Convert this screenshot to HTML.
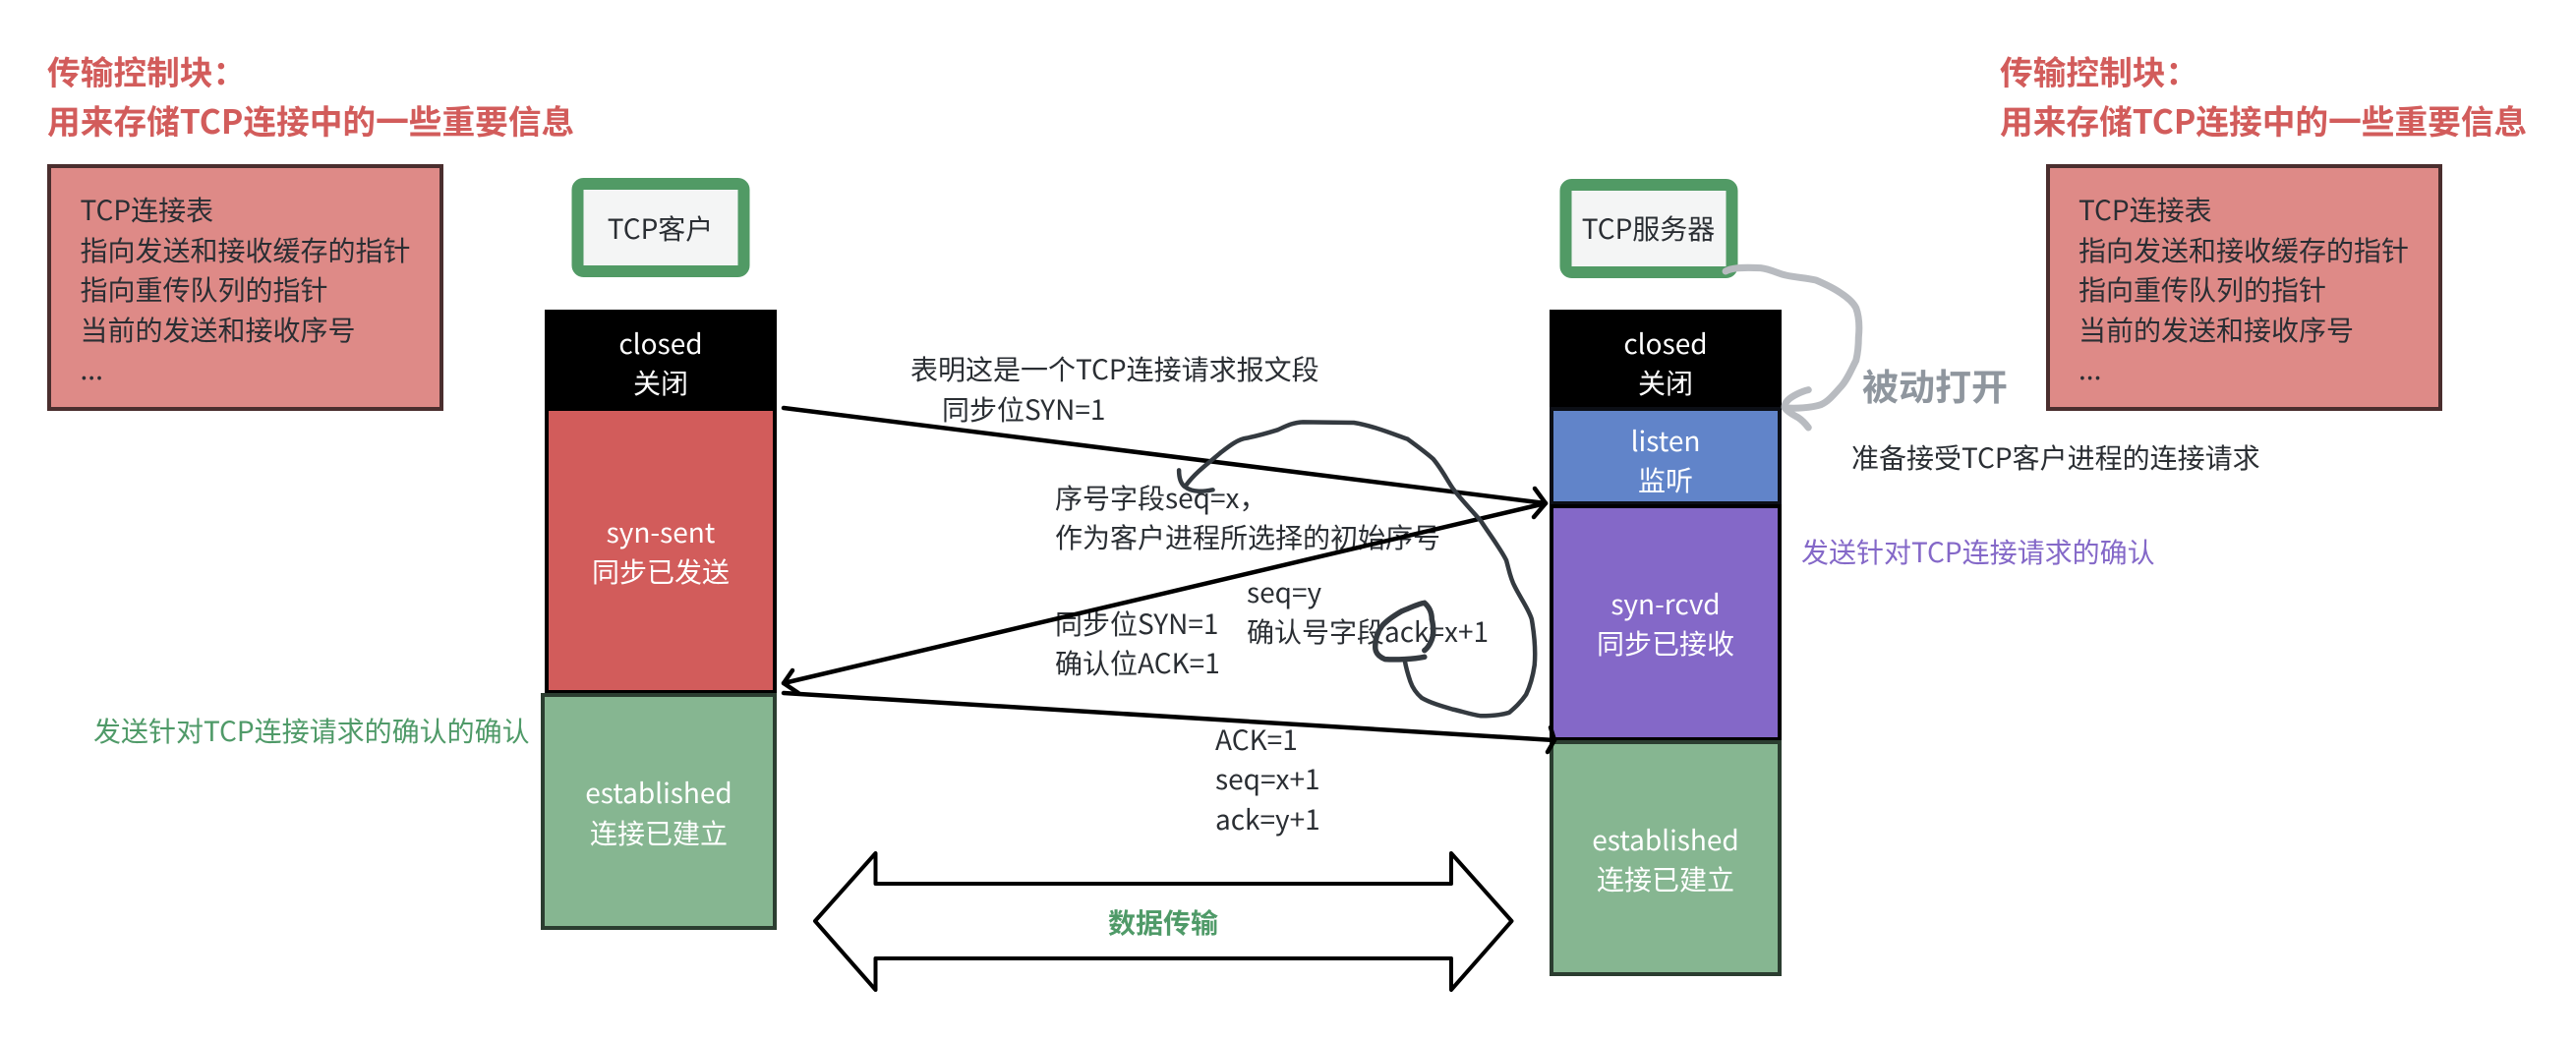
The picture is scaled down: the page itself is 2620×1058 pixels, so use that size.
<!DOCTYPE html>
<html lang="zh"><head><meta charset="utf-8"><title>TCP三次握手</title>
<style>
html,body{margin:0;padding:0;background:#fff;width:2620px;height:1058px;overflow:hidden}
svg{display:block;position:absolute;left:0;top:0}
text{font-family:"Noto Sans CJK SC","Liberation Sans",sans-serif;font-size:28px;fill:#2a2e33}
.w{fill:#fff;text-anchor:middle}
.t{font-size:33.7px;font-weight:700;fill:#d25c5b}
</style></head><body>
<svg width="2620" height="1058" viewBox="0 0 2620 1058" xmlns="http://www.w3.org/2000/svg">
<rect width="2620" height="1058" fill="#fff"/>

<text class="t" x="48" y="86">传输控制块：</text>
<text class="t" x="48" y="136">用来存储TCP连接中的一些重要信息</text>
<text class="t" x="2034" y="86">传输控制块：</text>
<text class="t" x="2034" y="136">用来存储TCP连接中的一些重要信息</text>

<rect x="50" y="169" width="399" height="247" fill="#de8a87" stroke="#4a2e2e" stroke-width="4"/>
<text x="81.5" y="224">TCP连接表</text>
<text x="81.5" y="265">指向发送和接收缓存的指针</text>
<text x="81.5" y="305">指向重传队列的指针</text>
<text x="81.5" y="346">当前的发送和接收序号</text>
<text x="81.5" y="386">...</text>

<rect x="2083" y="169" width="399" height="247" fill="#de8a87" stroke="#4a2e2e" stroke-width="4"/>
<text x="2114" y="224">TCP连接表</text>
<text x="2114" y="265">指向发送和接收缓存的指针</text>
<text x="2114" y="305">指向重传队列的指针</text>
<text x="2114" y="346">当前的发送和接收序号</text>
<text x="2114" y="386">...</text>

<rect x="587.5" y="187" width="169" height="89" rx="6" fill="#f4f5f5" stroke="#519a65" stroke-width="12"/>
<text x="671.5" y="243" text-anchor="middle">TCP客户</text>
<rect x="1592.5" y="188" width="169" height="89" rx="6" fill="#f4f5f5" stroke="#519a65" stroke-width="12"/>
<text x="1676.5" y="243" text-anchor="middle">TCP服务器</text>

<!-- client stack -->
<rect x="554" y="315" width="236" height="103" fill="#000"/>
<rect x="556" y="416" width="232" height="288" fill="#d25c5b" stroke="#000" stroke-width="4"/>
<rect x="552" y="707" width="236" height="237" fill="#86b691" stroke="#2b3d30" stroke-width="4"/>
<text class="w" x="672" y="360">closed</text>
<text class="w" x="672" y="400">关闭</text>
<text class="w" x="672" y="552">syn-sent</text>
<text class="w" x="672" y="592">同步已发送</text>
<text class="w" x="670" y="817">established</text>
<text class="w" x="670" y="858">连接已建立</text>

<!-- server stack -->
<rect x="1576" y="315" width="236" height="103" fill="#000"/>
<rect x="1578" y="416" width="232" height="96" fill="#6184c9" stroke="#0c0f16" stroke-width="4"/>
<rect x="1578" y="515" width="232" height="237" fill="#8468c8" stroke="#000" stroke-width="4"/>
<rect x="1578" y="755" width="232" height="236" fill="#86b691" stroke="#2b3d30" stroke-width="4"/>
<text class="w" x="1694" y="360">closed</text>
<text class="w" x="1694" y="400">关闭</text>
<text class="w" x="1694" y="459">listen</text>
<text class="w" x="1694" y="499">监听</text>
<text class="w" x="1694" y="625">syn-rcvd</text>
<text class="w" x="1694" y="665">同步已接收</text>
<text class="w" x="1694" y="865">established</text>
<text class="w" x="1694" y="905">连接已建立</text>

<!-- message labels -->
<text x="926" y="386">表明这是一个TCP连接请求报文段</text>
<text x="958" y="427">同步位SYN=1</text>
<text x="1073" y="517">序号字段seq=x，</text>
<text x="1073" y="557">作为客户进程所选择的初始序号</text>
<text x="1268" y="613">seq=y</text>
<text x="1268" y="653">确认号字段ack=x+1</text>
<text x="1073" y="645">同步位SYN=1</text>
<text x="1073" y="685">确认位ACK=1</text>
<text x="1236" y="763">ACK=1</text>
<text x="1236" y="803">seq=x+1</text>
<text x="1236" y="844">ack=y+1</text>
<text x="1883" y="476">准备接受TCP客户进程的连接请求</text>
<text x="1832" y="572" style="fill:#8468c8">发送针对TCP连接请求的确认</text>
<text x="95" y="754" style="fill:#4f9a68">发送针对TCP连接请求的确认的确认</text>
<text x="1894" y="407" style="font-size:37px;font-weight:700;fill:#8f969e">被动打开</text>

<!-- double arrow -->
<path d="M829 937 L890.5 868 V899 H1476 V868 L1537.5 937 L1476 1007 V975 H890.5 V1007 Z" fill="#fff" stroke="#000" stroke-width="4" stroke-linejoin="round"/>
<text x="1127" y="949" style="font-weight:700;fill:#4f9a68">数据传输</text>

<!-- message arrows -->
<g fill="none" stroke="#000" stroke-width="4.5" stroke-linecap="round" stroke-linejoin="round">
<path d="M797 415 L1572 512"/>
<path d="M1561 497 L1572 512 L1560 526"/>
<path d="M1572 512 L797 695"/>
<path d="M806 682 L797 695 L812 705"/>
<path d="M797 705 L1581 753"/>
<path d="M1577 740 L1581 753 L1574 765"/>
</g>

<!-- hand drawn annotation -->
<g transform="translate(760,330) scale(0.574,0.3333)" fill="none" stroke="#343a40" stroke-linecap="round" stroke-linejoin="round">
<path vector-effect="non-scaling-stroke" stroke-width="4.5" d="M765 445 C765 470 768 485 775 495 C790 515 810 510 825 505 M778 490 C795 450 820 420 840 390 C855 370 870 350 885 347 C905 340 925 330 940 322 C955 310 965 300 985 298 L1075 300 C1110 310 1145 335 1170 350 C1190 375 1205 395 1215 410 C1230 440 1240 475 1250 500 C1265 535 1285 570 1300 600 C1315 640 1335 685 1345 720 C1350 750 1352 775 1360 800 C1370 835 1385 870 1390 900 C1395 950 1397 1000 1395 1040 C1392 1075 1387 1105 1380 1130 C1370 1155 1360 1170 1350 1185 C1335 1193 1315 1195 1300 1195 C1280 1190 1265 1180 1250 1175 C1230 1165 1210 1155 1195 1140 C1185 1125 1178 1105 1175 1090 C1170 1065 1167 1045 1165 1025"/>
<path vector-effect="non-scaling-stroke" stroke-width="5.5" d="M1200 1015 C1180 1022 1150 1024 1130 1022 C1120 1015 1114 1005 1113 990 C1112 965 1116 940 1125 920 C1135 900 1150 885 1160 875 C1175 865 1190 852 1200 850 C1210 865 1213 885 1213 900 C1216 920 1216 935 1215 950 C1213 965 1208 985 1200 995"/>
</g>

<!-- gray passive-open curve -->
<g transform="translate(1500,150) scale(0.5102,0.3333)" fill="none" stroke="#b8bbc0" stroke-linecap="round" stroke-linejoin="round">
<path vector-effect="non-scaling-stroke" stroke-width="7" d="M500 378 C510 368 530 365 570 368 C590 372 605 385 620 390 C640 397 660 398 680 405 C700 418 718 432 730 445 C745 460 755 475 760 490 C767 520 767 550 765 580 C765 610 763 630 760 650 C750 680 742 710 730 730 C715 755 705 775 690 785 C670 795 640 797 620 795 M665 740 C650 745 632 760 625 770 C618 780 617 790 618 795 C625 810 640 820 645 825 C655 835 660 845 665 855"/>
</g>
</svg>
</body></html>
